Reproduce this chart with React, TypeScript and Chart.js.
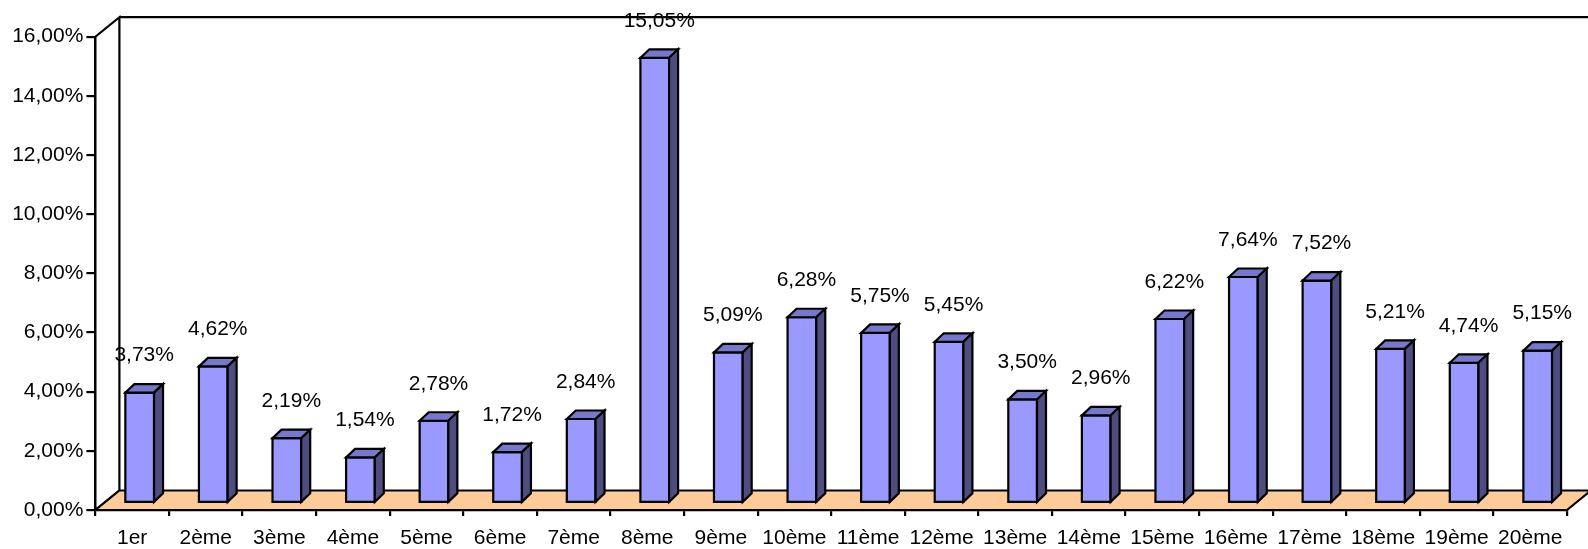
import { useEffect, useRef } from 'react';
import { Chart, registerables } from 'chart.js';

Chart.register(...registerables);

// Categories along the horizontal axis
const categories = [
  '1er', '2ème', '3ème', '4ème', '5ème', '6ème', '7ème', '8ème', '9ème', '10ème',
  '11ème', '12ème', '13ème', '14ème', '15ème', '16ème', '17ème', '18ème', '19ème', '20ème',
];

// Share of each category, in percent
const shares = [
  3.73, 4.62, 2.19, 1.54, 2.78, 1.72, 2.84, 15.05, 5.09, 6.28,
  5.75, 5.45, 3.5, 2.96, 6.22, 7.64, 7.52, 5.21, 4.74, 5.15,
];

// Value axis range and step
const yMin = 0;
const yMax = 16;
const yStep = 2;

const FONT = "'Liberation Sans', Arial, Helvetica, sans-serif";
const FONT_SIZE = 21;

// Depth of the box (walls and floor), and placement of the bars inside it
const WALL_DX = 24;
const WALL_DY = -19.5;
const BAR_SHIFT_X = 7.5;
const BAR_SHIFT_Y = -7;
const BAR_DX = 9;
const BAR_DY = -8.5;
const LINE_W = 2.2;

const COLORS = {
  front: '#9999FF',
  top: '#7777CC',
  side: '#4D4D80',
  floor: '#FFCC99',
  line: '#000000',
};

const fmt = (v: number) => v.toFixed(2).replace('.', ',') + '%';

const box3d = {
  id: 'box3d',
  beforeDatasetsDraw(chart: any) {
    const { ctx, chartArea } = chart;
    const { left, right, top, bottom } = chartArea;
    ctx.save();
    ctx.lineWidth = LINE_W;
    ctx.strokeStyle = COLORS.line;
    ctx.lineJoin = 'miter';

    // left side wall
    ctx.beginPath();
    ctx.moveTo(left, bottom);
    ctx.lineTo(left, top);
    ctx.lineTo(left + WALL_DX, top + WALL_DY);
    ctx.lineTo(left + WALL_DX, bottom + WALL_DY);
    ctx.closePath();
    ctx.fillStyle = '#ffffff';
    ctx.fill();
    ctx.stroke();

    // back wall top edge and right edge
    ctx.beginPath();
    ctx.moveTo(left + WALL_DX, top + WALL_DY);
    ctx.lineTo(right + WALL_DX, top + WALL_DY);
    ctx.lineTo(right + WALL_DX, bottom + WALL_DY);
    ctx.stroke();

    // floor
    ctx.beginPath();
    ctx.moveTo(left, bottom);
    ctx.lineTo(right, bottom);
    ctx.lineTo(right + WALL_DX, bottom + WALL_DY);
    ctx.lineTo(left + WALL_DX, bottom + WALL_DY);
    ctx.closePath();
    ctx.fillStyle = COLORS.floor;
    ctx.fill();
    ctx.stroke();
    ctx.restore();
  },
  afterDatasetsDraw(chart: any) {
    const { ctx } = chart;
    const meta = chart.getDatasetMeta(0);
    const values = chart.data.datasets[0].data as number[];
    ctx.save();
    ctx.lineWidth = LINE_W;
    ctx.strokeStyle = COLORS.line;
    ctx.lineJoin = 'miter';
    meta.data.forEach((bar: any, i: number) => {
      const { x, y, base, width } = bar.getProps(['x', 'y', 'base', 'width'], true);
      const x0 = x - width / 2 + BAR_SHIFT_X;
      const x1 = x + width / 2 + BAR_SHIFT_X;
      const yt = y + BAR_SHIFT_Y;
      const yb = base + BAR_SHIFT_Y;

      // front face
      ctx.beginPath();
      ctx.rect(x0, yt, x1 - x0, yb - yt);
      ctx.fillStyle = COLORS.front;
      ctx.fill();
      ctx.stroke();

      // top face
      ctx.beginPath();
      ctx.moveTo(x0, yt);
      ctx.lineTo(x1, yt);
      ctx.lineTo(x1 + BAR_DX, yt + BAR_DY);
      ctx.lineTo(x0 + BAR_DX, yt + BAR_DY);
      ctx.closePath();
      ctx.fillStyle = COLORS.top;
      ctx.fill();
      ctx.stroke();

      // side face
      ctx.beginPath();
      ctx.moveTo(x1, yt);
      ctx.lineTo(x1 + BAR_DX, yt + BAR_DY);
      ctx.lineTo(x1 + BAR_DX, yb + BAR_DY);
      ctx.lineTo(x1, yb);
      ctx.closePath();
      ctx.fillStyle = COLORS.side;
      ctx.fill();
      ctx.stroke();

      // value label
      ctx.fillStyle = '#000000';
      ctx.font = `${FONT_SIZE}px ${FONT}`;
      ctx.textAlign = 'center';
      ctx.textBaseline = 'middle';
      ctx.fillText(fmt(values[i]), x + BAR_SHIFT_X + BAR_DX / 2, yt - 37);
    });
    ctx.restore();
  },
};

export default function App() {
  const canvasRef = useRef<HTMLCanvasElement | null>(null);

  useEffect(() => {
    const canvas = canvasRef.current;
    if (!canvas) return;
    const chart = new Chart(canvas, {
      type: 'bar',
      data: {
        labels: categories,
        datasets: [
          {
            data: shares,
            backgroundColor: 'rgba(0,0,0,0)',
            borderWidth: 0,
            categoryPercentage: 1,
            barPercentage: 0.39,
          },
        ],
      },
      options: {
        animation: false,
        responsive: false,
        devicePixelRatio: 1,
        layout: { padding: { top: 36.7, right: 21, left: 0, bottom: 0 } },
        plugins: {
          legend: { display: false },
          tooltip: { enabled: false },
        },
        scales: {
          x: {
            afterFit(scale: any) {
              scale.height = 39;
            },
            grid: {
              drawOnChartArea: false,
              drawTicks: true,
              tickLength: 6,
              color: COLORS.line,
              lineWidth: LINE_W,
            },
            border: { display: true, color: COLORS.line, width: LINE_W },
            ticks: {
              color: '#000000',
              font: { family: FONT, size: FONT_SIZE },
              padding: 10,
              maxRotation: 0,
              autoSkip: false,
            },
          },
          y: {
            min: yMin,
            max: yMax,
            afterFit(scale: any) {
              scale.width = 95.4;
            },
            grid: {
              drawOnChartArea: false,
              drawTicks: true,
              tickLength: 9,
              color: COLORS.line,
              lineWidth: LINE_W,
            },
            border: { display: true, color: COLORS.line, width: LINE_W },
            ticks: {
              stepSize: yStep,
              color: '#000000',
              font: { family: FONT, size: FONT_SIZE },
              padding: 3,
              callback: (v: any) => fmt(Number(v)),
            },
          },
        },
      },
      plugins: [box3d],
    });
    return () => chart.destroy();
  }, []);

  return (
    <div
      style={{
        position: 'fixed',
        left: 0,
        top: 0,
        width: 1588,
        height: 549,
        background: '#ffffff',
      }}
    >
      <canvas ref={canvasRef} width={1588} height={549} style={{ display: 'block' }} />
    </div>
  );
}
